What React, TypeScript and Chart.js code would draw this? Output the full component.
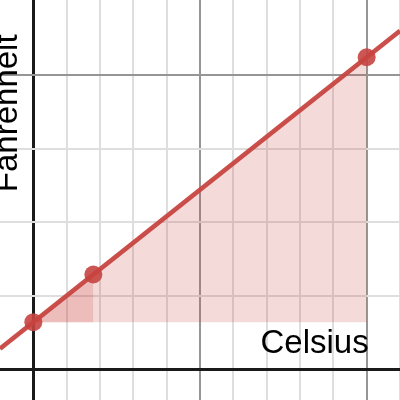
import React, { useEffect, useRef } from "react";
import { Chart, registerables } from "chart.js";

Chart.register(...registerables);

// Celsius -> Fahrenheit line (F = 1.8 C + 32)
const lineCelsius = [-10, 110];
const lineFahrenheit = [14, 230];

// highlighted points
const pointCelsius = [0, 18, 100];
const pointFahrenheit = [32, 64.4, 212];

// shaded rise/run triangles (base at 32 °F)
const bigTriCelsius = [0, 100];
const bigTriFahrenheit = [32, 212];
const smallTriCelsius = [0, 18];
const smallTriFahrenheit = [32, 64.4];
const baseFahrenheit = 32;

// grid ticks
const xTicks = [0, 10, 20, 30, 40, 50, 60, 70, 80, 90, 100, 110];
const xMajor = [50, 100];
const yTicks = [0, 50, 100, 150, 200];
const yMajor = [200];

const xRange = [-10, 110];
const yRange = [-20.86, 250.9];

const xLabel = "Celsius";
const yLabel = "Fahrenheit";

const RED = "199,68,64";

const zip = (xs: number[], ys: number[]) => xs.map((x, i) => ({ x, y: ys[i] }));

const gridColor = (major: number[]) => (ctx: any) => {
  const v = ctx.tick ? ctx.tick.value : 0;
  if (v === 0) return "#1a1a1a";
  if (major.includes(v)) return "#969696";
  return "#dedede";
};
const gridWidth = (ctx: any) => {
  const v = ctx.tick ? ctx.tick.value : 0;
  return v === 0 ? 3 : 2;
};

const labelsPlugin = {
  id: "axisLabels",
  afterDraw(chart: any) {
    const { ctx, scales } = chart;
    const xs = scales.x;
    const ys = scales.y;
    ctx.save();
    ctx.fillStyle = "#000";
    ctx.font = '33px "Liberation Sans", Arial, sans-serif';
    ctx.textBaseline = "alphabetic";
    ctx.textAlign = "right";
    ctx.fillText(xLabel, xs.getPixelForValue(100) + 2, ys.getPixelForValue(0) - 16);
    ctx.translate(xs.getPixelForValue(0) - 16.5, ys.getPixelForValue(120) - 0.5);
    ctx.rotate(-Math.PI / 2);
    ctx.textAlign = "left";
    ctx.fillText(yLabel, 0, 0);
    ctx.restore();
  },
};

export default function App() {
  const ref = useRef<HTMLCanvasElement | null>(null);
  useEffect(() => {
    document.body.style.margin = "0";
    const canvas = ref.current;
    if (!canvas) return;
    const chart = new Chart(canvas, {
      type: "scatter",
      data: {
        datasets: [
          {
            data: zip(pointCelsius, pointFahrenheit),
            showLine: false,
            pointRadius: 9,
            pointBackgroundColor: `rgba(${RED},0.9)`,
            pointBorderWidth: 0,
            borderColor: "transparent",
            order: 0,
          } as any,
          {
            data: zip(lineCelsius, lineFahrenheit),
            showLine: true,
            borderColor: `rgba(${RED},0.95)`,
            borderWidth: 4.5,
            pointRadius: 0,
            fill: false,
            order: 1,
          },
          {
            data: zip(smallTriCelsius, smallTriFahrenheit),
            showLine: true,
            borderWidth: 0,
            borderColor: "transparent",
            pointRadius: 0,
            fill: { value: baseFahrenheit },
            backgroundColor: `rgba(${RED},0.2)`,
            order: 2,
          },
          {
            data: zip(bigTriCelsius, bigTriFahrenheit),
            showLine: true,
            borderWidth: 0,
            borderColor: "transparent",
            pointRadius: 0,
            fill: { value: baseFahrenheit },
            backgroundColor: `rgba(${RED},0.2)`,
            order: 3,
          },
        ],
      },
      options: {
        responsive: false,
        animation: false,
        layout: { padding: 0, autoPadding: false },
        plugins: { legend: { display: false }, tooltip: { enabled: false } },
        scales: {
          x: {
            type: "linear",
            min: xRange[0],
            max: xRange[1],
            afterBuildTicks: (s: any) => {
              s.ticks = xTicks.map((value) => ({ value }));
            },
            ticks: { display: false },
            border: { display: false },
            grid: { drawTicks: false, color: gridColor(xMajor), lineWidth: gridWidth },
          },
          y: {
            type: "linear",
            min: yRange[0],
            max: yRange[1],
            afterBuildTicks: (s: any) => {
              s.ticks = yTicks.map((value) => ({ value }));
            },
            ticks: { display: false },
            border: { display: false },
            grid: { drawTicks: false, color: gridColor(yMajor), lineWidth: gridWidth },
          },
        },
      } as any,
      plugins: [labelsPlugin],
    });
    return () => chart.destroy();
  }, []);
  return (
    <div style={{ width: 400, height: 400 }}>
      <canvas ref={ref} width={400} height={400} style={{ display: "block" }} />
    </div>
  );
}
